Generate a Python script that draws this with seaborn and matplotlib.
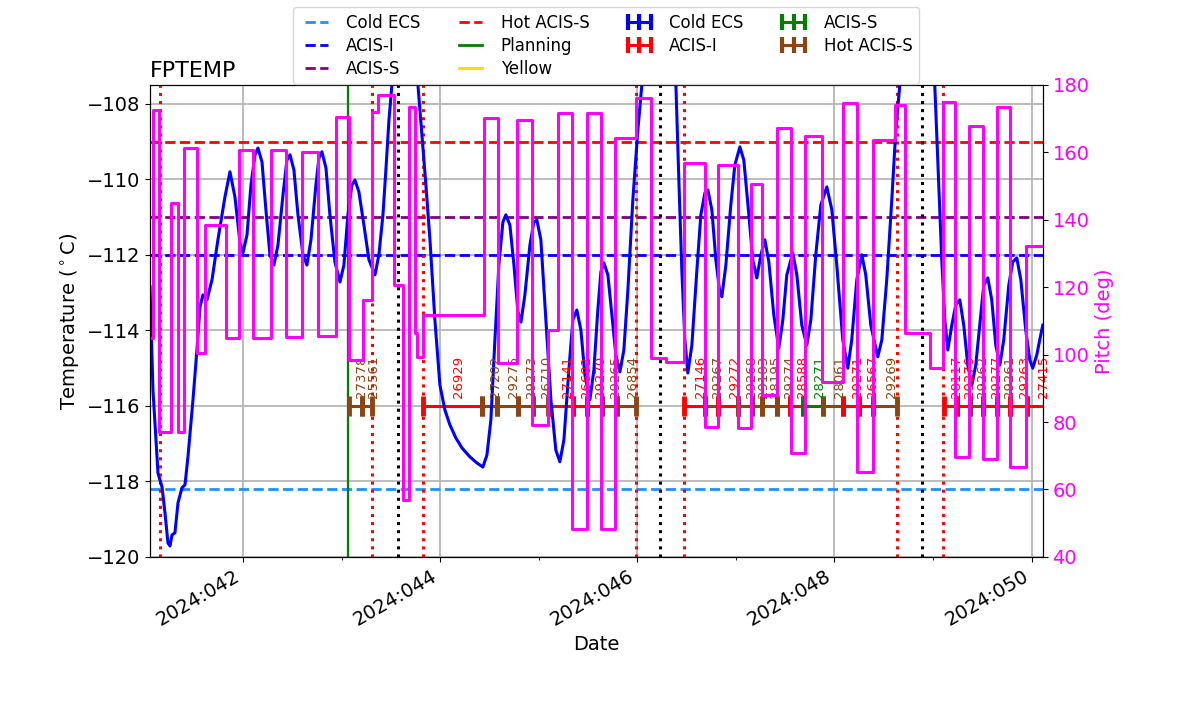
import matplotlib
matplotlib.use("Agg")
import matplotlib.pyplot as plt
from matplotlib.lines import Line2D
import seaborn as sns

plt.rcParams["font.family"] = ["DejaVu Sans"]

# ── FPTEMP model (day of year 2024, deg C) ─────────────────────────────────────
temp_time = [41.057, 41.087, 41.138, 41.179, 41.209, 41.239, 41.260, 41.280, 41.310,
             41.341, 41.381, 41.412, 41.442, 41.493, 41.533, 41.564, 41.594, 41.635,
             41.686, 41.746, 41.817, 41.868, 41.919, 41.970, 42.000, 42.041, 42.081,
             42.122, 42.152, 42.193, 42.233, 42.274, 42.314, 42.355, 42.406, 42.446,
             42.477, 42.517, 42.558, 42.609, 42.649, 42.690, 42.740, 42.771, 42.801,
             42.842, 42.882, 42.933, 42.984, 43.024, 43.065, 43.105, 43.136, 43.176,
             43.227, 43.278, 43.339, 43.379, 43.420, 43.450, 43.481, 43.511, 43.552,
             43.643, 43.714, 43.775, 43.815, 43.856, 43.897, 43.947, 43.998, 44.049,
             44.099, 44.160, 44.221, 44.302, 44.373, 44.434, 44.475, 44.515, 44.556,
             44.596, 44.637, 44.667, 44.708, 44.749, 44.789, 44.820, 44.860, 44.911,
             44.951, 44.982, 45.022, 45.073, 45.124, 45.174, 45.215, 45.256, 45.306,
             45.347, 45.387, 45.428, 45.469, 45.519, 45.560, 45.600, 45.631, 45.661,
             45.702, 45.742, 45.783, 45.824, 45.864, 45.905, 45.955, 46.006, 46.047,
             46.087, 46.219, 46.351, 46.392, 46.422, 46.452, 46.483, 46.513, 46.554,
             46.605, 46.645, 46.686, 46.716, 46.757, 46.797, 46.838, 46.858, 46.899,
             46.949, 46.990, 47.041, 47.081, 47.132, 47.172, 47.213, 47.254, 47.294,
             47.335, 47.385, 47.436, 47.477, 47.517, 47.578, 47.619, 47.669, 47.720,
             47.761, 47.811, 47.862, 47.923, 47.974, 48.024, 48.085, 48.136, 48.176,
             48.227, 48.278, 48.318, 48.369, 48.440, 48.481, 48.531, 48.582, 48.623,
             48.663, 48.704, 48.846, 48.978, 49.018, 49.049, 49.089, 49.120, 49.150,
             49.191, 49.231, 49.272, 49.312, 49.353, 49.394, 49.434, 49.475, 49.515,
             49.556, 49.596, 49.637, 49.678, 49.718, 49.769, 49.809, 49.850, 49.891,
             49.941, 49.982, 50.012, 50.053, 50.083, 50.114]
temp_vals = [-112.85, -115.58, -117.78, -118.15, -118.83, -119.63, -119.71, -119.42, -119.36,
             -118.57, -118.17, -118.09, -117.35, -115.84, -114.52, -113.38, -113.06, -113.19,
             -112.66, -111.60, -110.47, -109.80, -110.47, -111.68, -111.95, -111.47, -110.15,
             -109.35, -109.17, -109.54, -110.81, -112.00, -112.27, -111.74, -110.41, -109.49,
             -109.35, -109.75, -110.94, -112.00, -112.27, -111.60, -110.15, -109.43, -109.27,
             -109.70, -110.94, -112.19, -112.72, -112.27, -110.94, -110.15, -110.02, -110.33,
             -111.21, -112.13, -112.53, -112.00, -110.94, -109.75, -108.43, -107.50, -106.31,
             -105.50, -106.31, -107.50, -108.82, -110.15, -111.60, -113.72, -115.45, -116.11,
             -116.50, -116.85, -117.11, -117.35, -117.51, -117.62, -117.30, -116.37, -114.25,
             -112.27, -111.13, -110.94, -111.21, -112.27, -113.51, -113.78, -113.06, -111.74,
             -111.13, -111.08, -111.60, -113.72, -115.84, -117.17, -117.48, -116.90, -115.05,
             -113.72, -113.46, -113.99, -115.18, -115.84, -115.05, -113.46, -112.45, -112.21,
             -112.53, -113.59, -114.65, -115.10, -114.52, -112.93, -110.55, -108.69, -107.50,
             -106.31, -105.30, -106.31, -107.50, -110.02, -112.40, -114.25, -115.13, -114.39,
             -112.40, -110.94, -110.36, -110.28, -110.81, -112.13, -113.01, -113.11, -112.27,
             -110.68, -109.62, -109.14, -109.49, -110.94, -112.13, -112.61, -112.00, -111.60,
             -112.19, -113.59, -114.47, -113.72, -112.53, -111.95, -112.53, -113.86, -114.39,
             -113.72, -112.00, -110.68, -110.20, -110.81, -112.27, -114.25, -115.00, -114.25,
             -112.66, -112.00, -112.53, -113.86, -114.70, -114.25, -112.66, -110.55, -108.69,
             -107.50, -106.31, -105.30, -106.31, -107.50, -109.49, -112.13, -113.72, -114.52,
             -113.86, -113.33, -113.19, -113.86, -114.92, -115.45, -114.92, -113.86, -112.80,
             -112.61, -113.19, -114.39, -114.92, -114.25, -112.80, -112.19, -112.08, -112.66,
             -113.99, -114.78, -115.00, -114.65, -114.25, -113.86]

# ── pitch (deg), step changes ─────────────────────────────────────────────────
pitch_time = [41.057, 41.087, 41.148, 41.270, 41.341, 41.402, 41.533, 41.615, 41.828,
              41.959, 42.101, 42.284, 42.436, 42.598, 42.761, 42.943, 43.075, 43.217,
              43.308, 43.369, 43.531, 43.623, 43.684, 43.744, 43.765, 43.826, 44.444,
              44.586, 44.779, 44.931, 45.093, 45.195, 45.337, 45.489, 45.631, 45.773,
              45.986, 46.138, 46.290, 46.473, 46.686, 46.817, 47.020, 47.152, 47.264,
              47.416, 47.558, 47.700, 47.872, 48.085, 48.227, 48.389, 48.613, 48.714,
              48.968, 49.099, 49.221, 49.363, 49.505, 49.647, 49.779, 49.941, 50.114]
pitch_vals = [105.0, 172.6, 77.1, 145.0, 77.1, 161.3, 100.5, 138.5, 105.0,
              160.7, 105.0, 160.7, 105.3, 160.1, 105.6, 170.5, 98.4, 116.2,
              172.0, 177.1, 120.7, 56.9, 173.5, 106.4, 99.3, 111.8, 170.2,
              97.5, 169.6, 79.2, 107.3, 171.7, 48.3, 171.7, 48.3, 164.3,
              176.2, 99.0, 97.8, 156.9, 78.6, 156.3, 78.3, 150.6, 88.0,
              167.3, 70.9, 164.9, 91.9, 174.7, 65.2, 163.7, 174.0, 106.4,
              96.0, 175.0, 69.7, 167.9, 69.1, 173.5, 66.7, 132.3, 132.3]

# ── limits ────────────────────────────────────────────────────────────────────
limit_names = ["Cold ECS", "ACIS-I", "ACIS-S", "Hot ACIS-S", "Planning", "Yellow"]
limit_vals = [-118.2, -112.0, -111.0, -109.0, -84.0, -79.0]
limit_colors = ["dodgerblue", "blue", "purple", "red", "green", "gold"]
limit_styles = ["--", "--", "--", "--", "-", "-"]

# ── observations ──────────────────────────────────────────────────────────────
obs_ids = ["27378", "25561", "26929", "27202", "29275", "29273", "26710", "27141",
           "26682", "29270", "29265", "26854", "27146", "29267", "29272", "29268",
           "29183", "28195", "29274", "28588", "28271", "28061", "29271", "26567",
           "29269", "28117", "29276", "29262", "29277", "29261", "29263", "27415"]
obs_start = [43.075, 43.207, 43.826, 44.424, 44.576, 44.789, 44.941, 45.103,
             45.347, 45.489, 45.641, 45.793, 46.473, 46.686, 46.817, 47.020,
             47.162, 47.264, 47.416, 47.548, 47.680, 47.882, 48.085, 48.247,
             48.389, 49.110, 49.241, 49.373, 49.505, 49.647, 49.779, 49.951]
obs_stop = [43.207, 43.308, 44.424, 44.576, 44.789, 44.941, 45.093, 45.347,
            45.489, 45.641, 45.793, 45.986, 46.686, 46.817, 47.020, 47.162,
            47.264, 47.416, 47.548, 47.680, 47.882, 48.085, 48.247, 48.389,
            48.633, 49.241, 49.373, 49.505, 49.647, 49.779, 49.951, 50.164]
obs_kind = ["Hot ACIS-S", "Hot ACIS-S", "ACIS-I", "Hot ACIS-S", "Hot ACIS-S", "Hot ACIS-S",
            "Hot ACIS-S", "ACIS-I", "ACIS-I", "ACIS-I", "Hot ACIS-S", "Hot ACIS-S",
            "ACIS-I", "Hot ACIS-S", "ACIS-I", "Hot ACIS-S", "Hot ACIS-S", "Hot ACIS-S",
            "Hot ACIS-S", "ACIS-I", "ACIS-S", "Hot ACIS-S", "ACIS-I", "ACIS-I",
            "Hot ACIS-S", "ACIS-I", "ACIS-I", "Hot ACIS-S", "ACIS-I", "Hot ACIS-S",
            "ACIS-I", "ACIS-I"]
kind_names = ["Cold ECS", "ACIS-I", "ACIS-S", "Hot ACIS-S"]
kind_colors = {"Cold ECS": "blue", "ACIS-I": "red", "ACIS-S": "green",
               "Hot ACIS-S": "saddlebrown"}
obs_level = -116.0

# vertical markers
red_times = [41.158, 43.308, 43.826, 45.986, 46.473, 48.633, 49.099]
black_times = [43.572, 46.229, 48.886]
load_start = 43.065

major_days = [42, 44, 46, 48, 50]
minor_days = [43, 45, 47, 49]

fig = plt.figure(figsize=(12, 7.14), dpi=100)
ax = fig.add_axes([0.125, 0.22, 0.744, 0.661])

ax.grid(True, color="#b0b0b0", lw=1.2)
ax.set_axisbelow(True)

for val, col, ls in zip(limit_vals, limit_colors, limit_styles):
    ax.axhline(val, color=col, ls=ls, lw=2.0)

for t in red_times:
    ax.axvline(t, color="red", ls=":", lw=2.2)
for t in black_times:
    ax.axvline(t, color="black", ls=":", lw=2.2)
ax.axvline(load_start, color="green", ls="-", lw=1.6)

for oid, t0, t1, kind in zip(obs_ids, obs_start, obs_stop, obs_kind):
    c = kind_colors[kind]
    ax.plot([t0, t1], [obs_level, obs_level], color=c, lw=2.2,
            marker="|", ms=15, mew=3.5)
    ax.text(0.5 * (t0 + t1), obs_level + 0.2, oid, rotation=90, ha="left",
            va="bottom", color=c, fontsize=9.5)

sns.lineplot(x=temp_time, y=temp_vals, ax=ax, color="blue", lw=2.2,
             sort=False, estimator=None, legend=False)

ax.set_xlim(41.057, 50.114)
ax.set_ylim(-120, -107.5)
ax.set_yticks(range(-120, -107, 2))
ax.set_xticks(major_days)
ax.set_xticklabels([f"2024:{d:03d}" for d in major_days])
ax.set_xticks(minor_days, minor=True)
plt.setp(ax.get_xticklabels(), rotation=30, ha="right")
ax.tick_params(labelsize=14)
ax.set_xlabel("Date", fontsize=14)
ax.set_ylabel("Temperature ($^\\circ$C)", fontsize=14)
ax.set_title("FPTEMP", loc="left", fontsize=16)

ax2 = ax.twinx()
sns.lineplot(x=pitch_time, y=pitch_vals, ax=ax2, color="magenta", lw=2.2,
             drawstyle="steps-post", sort=False, estimator=None, legend=False)
ax2.set_ylim(40, 180)
ax2.set_yticks(range(40, 181, 20))
ax2.tick_params(axis="y", labelsize=14, labelcolor="magenta")
ax2.set_ylabel("Pitch (deg)", color="magenta", fontsize=14)
ax2.grid(False)

handles = [Line2D([], [], color=c, ls=ls, lw=2.0)
           for c, ls in zip(limit_colors, limit_styles)]
handles += [Line2D([], [], color=kind_colors[k], lw=2.2, marker="|", ms=12, mew=3)
            for k in kind_names]
labels = limit_names + kind_names
fig.legend(handles, labels, loc="upper center", bbox_to_anchor=(0.505, 0.990),
           borderaxespad=0, ncol=4, fontsize=12, numpoints=3, labelspacing=0.3)

fig.savefig("out.png", dpi=100)
